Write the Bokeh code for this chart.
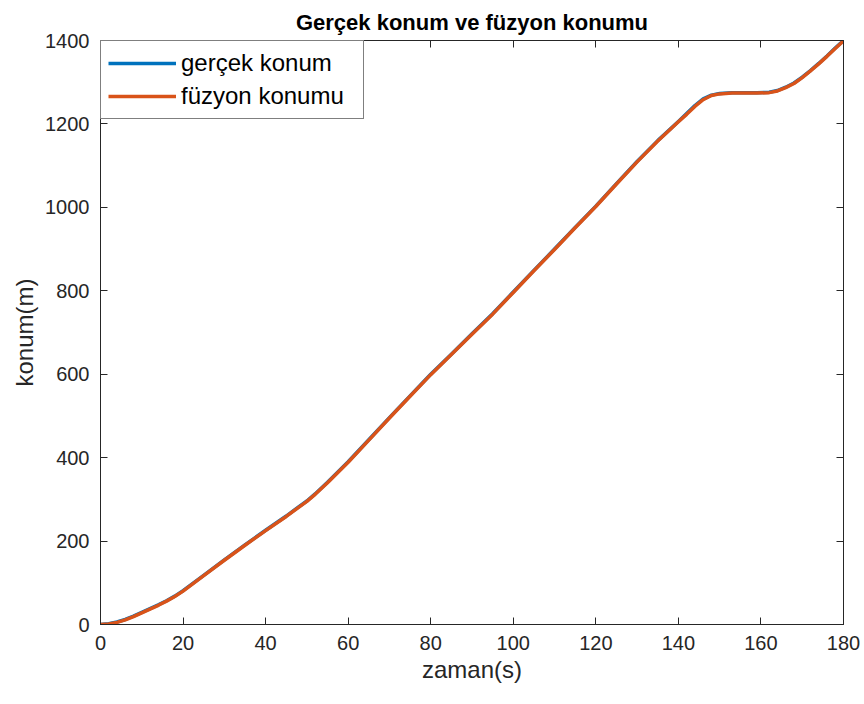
from bokeh.plotting import figure
from bokeh.models import LinearAxis, Range1d, FixedTicker, Legend, LegendItem
from bokeh.embed import file_html
from bokeh.resources import INLINE

# time (s)
zaman = [0, 2, 4, 6, 8, 10, 12, 14, 16, 18, 20, 25, 30, 35, 40, 45, 48, 50,
         52, 55, 60, 65, 70, 75, 80, 85, 90, 95, 100, 105, 110, 115, 120, 125,
         130, 135, 140, 142, 144, 146, 148, 150, 153, 156, 159, 162, 164, 166,
         168, 170, 172, 174, 176, 178, 180]

# true position (m)
gercek_konum = [0, 2, 6, 12, 20, 29, 38, 47, 57, 68, 81, 118, 155, 191, 226,
                260, 282, 296, 313, 341, 390, 443, 496, 548, 600, 648, 697,
                745, 797, 849, 900, 952, 1003, 1057, 1110, 1160, 1206, 1225,
                1244, 1260, 1269, 1273, 1275, 1275, 1275, 1276, 1280, 1288,
                1298, 1312, 1328, 1345, 1363, 1382, 1400]

# fused position estimate (m)
fuzyon_konumu = [0, 1, 5, 11, 19, 28, 37, 46, 56, 67, 80, 117, 154, 190, 225,
                 259, 281, 295, 312, 340, 389, 442, 495, 547, 599, 647, 696,
                 744, 796, 848, 899, 951, 1002, 1056, 1109, 1159, 1205, 1223,
                 1242, 1258, 1268, 1272, 1274, 1274, 1274, 1275, 1279, 1287,
                 1297, 1311, 1327, 1344, 1362, 1381, 1399]

x_ticks = [0, 20, 40, 60, 80, 100, 120, 140, 160, 180]
y_ticks = [0, 200, 400, 600, 800, 1000, 1200, 1400]

FONT = "Liberation Sans"
AX = "#262626"

p = figure(frame_width=743, frame_height=584,
           x_range=Range1d(0, 180), y_range=Range1d(0, 1400),
           output_backend="svg", toolbar_location=None,
           min_border_left=100, min_border_right=21,
           min_border_top=40, min_border_bottom=79,
           x_axis_type=None, y_axis_type=None)

p.title.text = "Gerçek konum ve füzyon konumu"
p.title.align = "center"
p.title.vertical_align = "top"
p.title.text_font = FONT
p.title.text_font_size = "22px"
p.title.text_font_style = "bold"
p.title.text_color = "#000000"
p.title.offset = 0
p.title.standoff = 8

p.xgrid.visible = False
p.ygrid.visible = False
p.outline_line_color = AX
p.background_fill_color = "white"
p.border_fill_color = "white"


def style_axis(ax, ticks, show_labels):
    ax.ticker = FixedTicker(ticks=ticks)
    ax.axis_line_color = AX
    ax.major_tick_line_color = AX
    ax.major_tick_in = 7
    ax.major_tick_out = 0
    ax.minor_tick_line_color = None
    if show_labels:
        ax.major_label_text_font = FONT
        ax.major_label_text_font_size = "20px"
        ax.major_label_text_color = AX
    else:
        ax.major_label_text_font_size = "0px"
        ax.major_label_text_color = None


xb = LinearAxis(axis_label="zaman(s)")
style_axis(xb, x_ticks, True)
xb.major_label_standoff = 11
xb.axis_label_text_font = FONT
xb.axis_label_text_font_size = "24px"
xb.axis_label_text_font_style = "normal"
xb.axis_label_text_color = AX
xb.axis_label_standoff = 3
p.add_layout(xb, "below")

yl = LinearAxis(axis_label="konum(m)")
style_axis(yl, y_ticks, True)
yl.major_label_standoff = 11
yl.axis_label_text_font = FONT
yl.axis_label_text_font_size = "24px"
yl.axis_label_text_font_style = "normal"
yl.axis_label_text_color = AX
yl.axis_label_standoff = 4
p.add_layout(yl, "left")

xt = LinearAxis()
style_axis(xt, x_ticks, False)
p.add_layout(xt, "above")

yr = LinearAxis()
style_axis(yr, y_ticks, False)
p.add_layout(yr, "right")

r_true = p.line(zaman, gercek_konum, line_color="#0072BD", line_width=3.5,
                line_join="round")
r_fused = p.line(zaman, fuzyon_konumu, line_color="#D95319", line_width=3.5,
                 line_join="round")

legend = Legend(items=[LegendItem(label="gerçek konum", renderers=[r_true]),
                       LegendItem(label="füzyon konumu", renderers=[r_fused])],
                location="top_left")
legend.margin = 0
legend.padding = 7
legend.spacing = 3
legend.glyph_width = 68
legend.glyph_height = 30
legend.label_height = 30
legend.label_width = 175
legend.label_standoff = 5
legend.label_text_font = FONT
legend.label_text_font_size = "24px"
legend.label_text_color = "#000000"
legend.border_line_color = "#000000"
legend.border_line_width = 1
legend.background_fill_color = "white"
legend.background_fill_alpha = 1
p.add_layout(legend, "center")

open("out.html", "w").write(file_html(p, INLINE))
